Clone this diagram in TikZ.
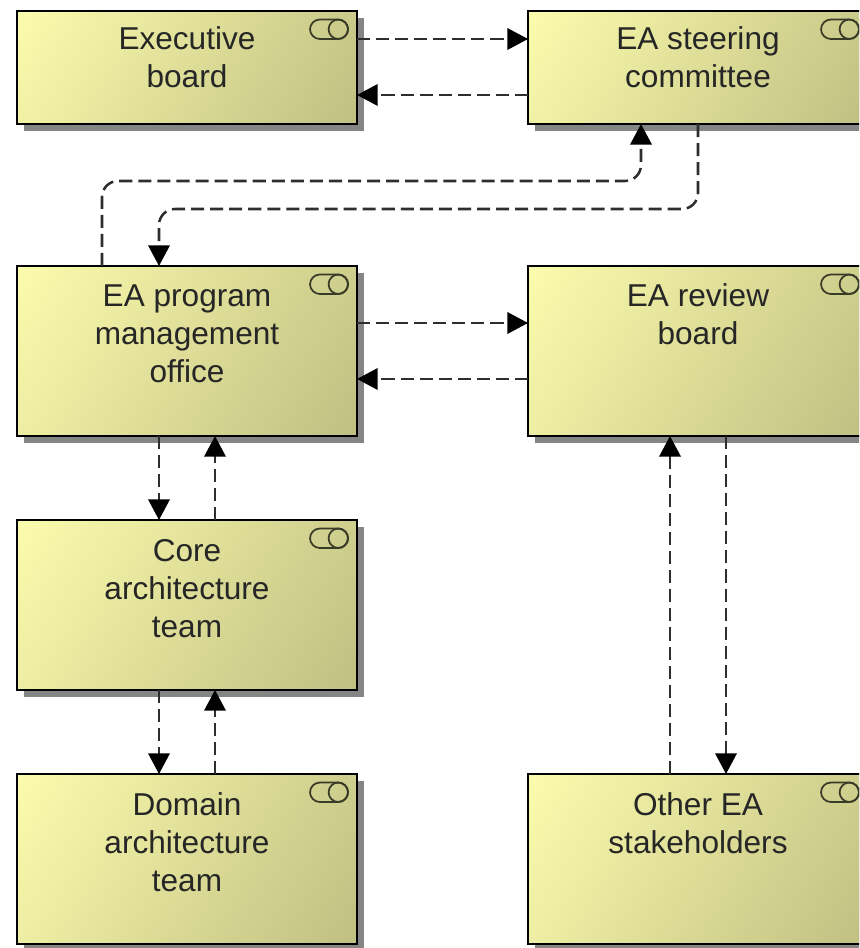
\documentclass[tikz,border=0pt]{standalone}
\usepackage{fontspec}
\setmainfont{Liberation Sans}
\usetikzlibrary{arrows.meta,shadows,shadings}
\definecolor{boxlight}{HTML}{FFFFB0}
\definecolor{boxdark}{HTML}{BCBC80}
\definecolor{shadowgray}{HTML}{858585}
\definecolor{linegray}{HTML}{2E2E2E}
\definecolor{icongray}{HTML}{3A3A28}
\pgfdeclareverticalshading{boxgrad}{100bp}{color(0bp)=(boxdark); color(12bp)=(boxdark); color(88bp)=(boxlight); color(100bp)=(boxlight)}
\tikzset{
  x=0.75pt,y=-0.75pt,
  rolebox/.style={rectangle,draw=black,line width=1.6pt,inner sep=0pt,outer sep=0pt,
    minimum width=255pt,
    drop shadow={shadow xshift=5.2pt,shadow yshift=-5.2pt,fill=shadowgray,opacity=1},
    shading=boxgrad,shading angle=58},
  shortbox/.style={rolebox,minimum height=84.75pt},
  tallbox/.style={rolebox,minimum height=127.5pt},
  lbl/.style={anchor=north,align=center,inner sep=0pt,outer sep=0pt,text=black!85,
    font=\fontsize{23.7}{28.5}\selectfont,execute at begin node=\strut},
  flow/.style={draw=linegray,line width=1.9pt,dash pattern=on 9.8pt off 4.5pt,rounded corners=12pt,
    -{Triangle[length=15.5pt,width=16pt,color=black]}},
  iconline/.style={draw=icongray,line width=1.3pt},
}
\begin{document}
\begin{tikzpicture}
\useasboundingbox (0,0) rectangle (859,948);
\clip (0,0) rectangle (859,948);
\node[shortbox] (exec) at (187,67.5) {};
\node[shortbox] (steer) at (698,67.5) {};
\node[tallbox] (pmo) at (187,351) {};
\node[tallbox] (review) at (698,351) {};
\node[tallbox] (core) at (187,605) {};
\node[tallbox] (domain) at (187,859) {};
\node[tallbox] (other) at (698,859) {};
\foreach \n in {exec,steer,pmo,review,core,domain,other}{
  \draw[iconline,rounded corners=7.4pt]
    ([xshift=-35.25pt,yshift=-6.4pt]\n.north east) rectangle ([xshift=-6.75pt,yshift=-21pt]\n.north east);
  \draw[iconline] ([xshift=-14pt,yshift=-13.7pt]\n.north east) circle[radius=7.3pt];
}
\node[lbl] (exect) at ([yshift=-11.6pt]exec.north) {Executive\\board};
\node[lbl] (steert) at ([yshift=-11.6pt]steer.north) {EA steering\\committee};
\node[lbl] (pmot) at ([yshift=-14pt]pmo.north) {EA program\\management\\office};
\node[lbl] (reviewt) at ([yshift=-13.4pt]review.north) {EA review\\board};
\node[lbl] (coret) at ([yshift=-14.8pt]core.north) {Core\\architecture\\team};
\node[lbl] (domaint) at ([yshift=-14pt]domain.north) {Domain\\architecture\\team};
\node[lbl] (othert) at ([yshift=-14pt]other.north) {Other EA\\stakeholders};
% connectors
\draw[flow] (exec.east |- 0,39) -- (steer.west |- 0,39);
\draw[flow] (steer.west |- 0,95) -- (exec.east |- 0,95);
\draw[flow] (pmo.north -| 102,0) -- (102,181) -- (641,181) -- (steer.south -| 641,0);
\draw[flow] (steer.south) -- (698,209) -- (159,209) -- (pmo.north -| 159,0);
\draw[flow] (pmo.east |- 0,323) -- (review.west |- 0,323);
\draw[flow] (review.west |- 0,379) -- (pmo.east |- 0,379);
\draw[flow] (pmo.south -| 159,0) -- (core.north -| 159,0);
\draw[flow] (core.north -| 215,0) -- (pmo.south -| 215,0);
\draw[flow] (core.south -| 159,0) -- (domain.north -| 159,0);
\draw[flow] (domain.north -| 215,0) -- (core.south -| 215,0);
\draw[flow] (other.north -| 670,0) -- (review.south -| 670,0);
\draw[flow] (review.south -| 726,0) -- (other.north -| 726,0);
\end{tikzpicture}
\end{document}
